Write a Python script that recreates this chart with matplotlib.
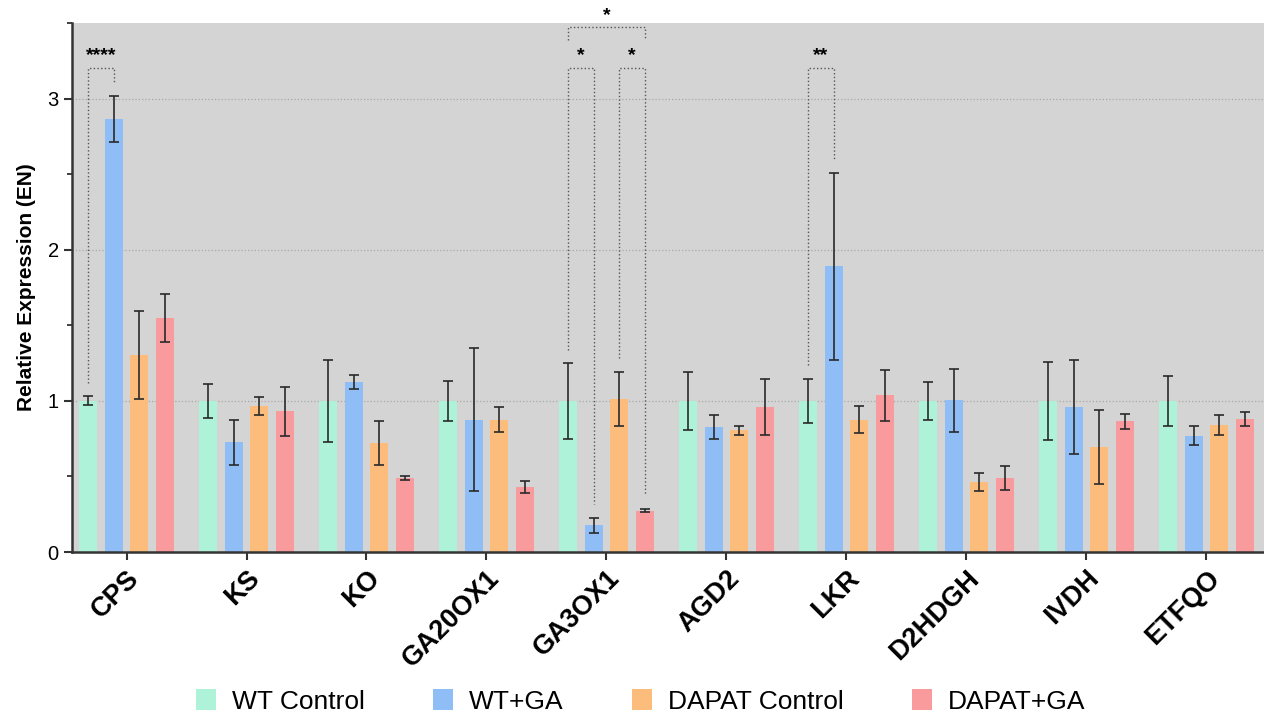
import matplotlib.pyplot as plt
import numpy as np

plt.rcParams['font.family'] = ['Liberation Sans', 'DejaVu Sans']

genes = ['CPS', 'KS', 'KO', 'GA20OX1', 'GA3OX1', 'AGD2', 'LKR', 'D2HDGH', 'IVDH', 'ETFQO']
groups = ['WT Control', 'WT+GA', 'DAPAT Control', 'DAPAT+GA']

wt_ctrl = [1.00, 1.00, 1.00, 1.00, 1.00, 1.00, 1.00, 1.00, 1.00, 1.00]
wt_ga = [2.865, 0.725, 1.125, 0.876, 0.176, 0.83, 1.89, 1.003, 0.962, 0.771]
dapat_ctrl = [1.305, 0.965, 0.72, 0.875, 1.011, 0.805, 0.876, 0.463, 0.695, 0.84]
dapat_ga = [1.55, 0.93, 0.49, 0.43, 0.275, 0.959, 1.037, 0.49, 0.865, 0.882]

wt_ctrl_err = [0.03, 0.11, 0.27, 0.13, 0.25, 0.19, 0.145, 0.125, 0.26, 0.167]
wt_ga_err = [0.155, 0.15, 0.045, 0.475, 0.05, 0.08, 0.617, 0.21, 0.31, 0.065]
dapat_ctrl_err = [0.29, 0.058, 0.147, 0.083, 0.18, 0.032, 0.088, 0.06, 0.242, 0.066]
dapat_ga_err = [0.16, 0.165, 0.015, 0.04, 0.01, 0.187, 0.168, 0.077, 0.048, 0.046]

colors = ['#aef2d9', '#8fbdf6', '#fcbd7c', '#f99b9d']

# significance: (gene index, series a, series b, label)
sig_pairs = [(0, 0, 1, '****'), (4, 0, 1, '*'), (4, 2, 3, '*'), (6, 0, 1, '**')]

means = [wt_ctrl, wt_ga, dapat_ctrl, dapat_ga]
errs = [wt_ctrl_err, wt_ga_err, dapat_ctrl_err, dapat_ga_err]

fig = plt.figure(figsize=(12.64, 7.17), dpi=100)
ax = fig.add_axes([0.057, 0.230, 0.943, 0.738])
ax.set_facecolor('#d4d4d4')

x = np.arange(len(genes))
width = 0.15
step = 0.214
offsets = (np.arange(4) - 1.5) * step

for i in range(4):
    ax.bar(x + offsets[i], means[i], width=width, color=colors[i], label=groups[i], zorder=2)
    ax.errorbar(x + offsets[i], means[i], yerr=errs[i], fmt='none', ecolor='#2a2a2a',
                elinewidth=1.2, capsize=3.5, capthick=1.2, zorder=3)

ax.set_xlim(-0.454, 9.48)
ax.set_ylim(0, 3.5)
ax.set_yticks([0, 1, 2, 3])
ax.set_yticks([0.5, 1.5, 2.5, 3.5], minor=True)
ax.grid(axis='y', which='major', linestyle=':', color='#a8a8a8', linewidth=0.9, zorder=1)
ax.set_axisbelow(True)

for s in ['top', 'right']:
    ax.spines[s].set_visible(False)
for s in ['left', 'bottom']:
    ax.spines[s].set_linewidth(1.8)
    ax.spines[s].set_color('#333333')

ax.tick_params(axis='y', which='major', length=6, width=1.5, labelsize=14.5, color='#333333')
ax.tick_params(axis='y', which='minor', length=3.5, width=1.3, color='#333333')
ax.tick_params(axis='x', length=6, width=1.5, color='#333333')
ax.set_xticks(x)
ax.set_xticklabels(genes, rotation=45, ha='right', rotation_mode='anchor',
                   fontsize=19.5, fontweight='bold')
ax.set_ylabel('Relative Expression (EN)', fontsize=15, fontweight='bold', labelpad=8)

# significance brackets
bar_top = 3.2
for g, a, b, lab in sig_pairs:
    xa = g + offsets[a]
    xb = g + offsets[b]
    ya = means[a][g] + errs[a][g] + 0.09
    yb = means[b][g] + errs[b][g] + 0.09
    ax.plot([xa, xa, xb, xb], [ya, bar_top, bar_top, yb], linestyle=':', color='#555555',
            linewidth=1.0, zorder=4, clip_on=False)
    ax.text((xa + xb) / 2, bar_top + 0.03, lab, ha='center', va='bottom', fontsize=14,
            fontweight='bold', zorder=5)

# outer bracket GA3OX1 WT Control vs DAPAT+GA
xa = 4 + offsets[0]
xb = 4 + offsets[3]
ax.plot([xa, xa, xb, xb], [3.39, 3.475, 3.475, 3.39], linestyle=':', color='#555555',
        linewidth=1.0, zorder=4, clip_on=False)
ax.text((xa + xb) / 2, 3.49, '*', ha='center', va='bottom', fontsize=14,
        fontweight='bold', clip_on=False)

fig.legend(loc='center', bbox_to_anchor=(0.507, 0.022), ncol=4, frameon=False,
           fontsize=19, handlelength=0.75, handleheight=0.85, handletextpad=0.6,
           columnspacing=2.6)

fig.savefig('out.png', dpi=100)
